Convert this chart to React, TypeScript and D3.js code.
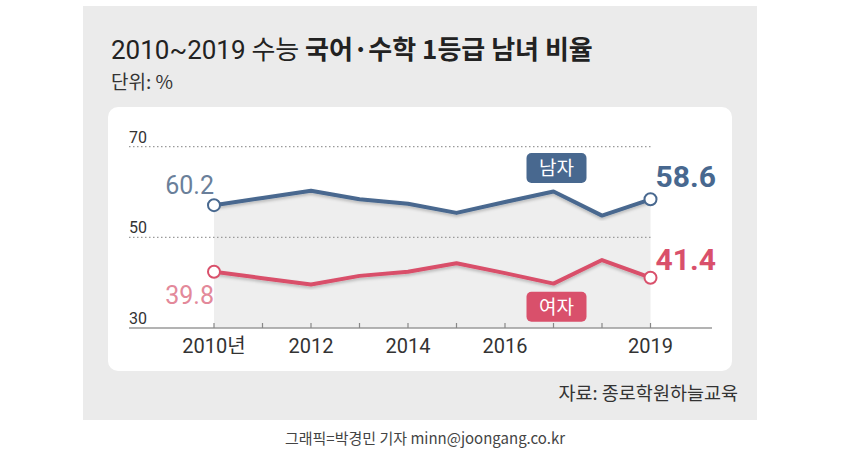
import React from "react";
import * as d3 from "d3";

const years = [2010, 2011, 2012, 2013, 2014, 2015, 2016, 2017, 2018, 2019];
const maleValues = [57.1, 58.7, 60.3, 58.4, 57.4, 55.4, 57.8, 60.1, 54.8, 58.4];
const femaleValues = [42.4, 41.0, 39.6, 41.5, 42.4, 44.3, 42.1, 39.8, 45.0, 41.1];
const maleEndLabels = ["60.2", "58.6"];
const femaleEndLabels = ["39.8", "41.4"];
const yTicks = [30, 50, 70];
const xTickYears = [2010, 2012, 2014, 2016, 2019];
const xTickLabels = ["2010년", "2012", "2014", "2016", "2019"];
const seriesNames = ["남자", "여자"];

const W = 850;
const H = 456;
const MALE = "#48688f";
const FEMALE = "#d9506b";
const FONT = "'Noto Sans CJK KR', sans-serif";
const NUMFONT = "Roboto, 'Noto Sans CJK KR', sans-serif";

export default function App() {
  const x = d3.scaleLinear().domain([2010, 2019]).range([214, 650.5]);
  const y = d3.scaleLinear().domain([30, 70]).range([328, 146.7]);

  const male = years.map((yr, i) => [yr, maleValues[i]] as [number, number]);
  const female = years.map((yr, i) => [yr, femaleValues[i]] as [number, number]);

  const line = d3
    .line<[number, number]>()
    .x((d) => x(d[0]))
    .y((d) => y(d[1]));
  const area = d3
    .area<[number, number]>()
    .x((d) => x(d[0]))
    .y0(y(30))
    .y1((d) => y(d[1]));

  const first = 0;
  const last = years.length - 1;

  return (
    <svg
      width={W}
      height={H}
      style={{ position: "absolute", left: 0, top: 0, background: "#fff" }}
      fontFamily={FONT}
    >
      <defs>
        <filter id="sh" x="-5%" y="-20%" width="110%" height="140%">
          <feDropShadow dx="0" dy="2" stdDeviation="1.5" floodColor="#000" floodOpacity="0.22" />
        </filter>
      </defs>
      {/* outer gray panel */}
      <rect x={83} y={6} width={674} height={414} fill="#ebebeb" />
      {/* title */}
      <text x={111} y={59} fontSize={26} fill="#222">
        <tspan fontFamily={NUMFONT}>2010~2019</tspan>
        <tspan> 수능 </tspan>
        <tspan fontWeight="bold">국어·수학 1등급 남녀 비율</tspan>
      </text>
      <text x={111} y={89} fontSize={19} fill="#333">
        단위: %
      </text>
      {/* inner white panel */}
      <rect x={108} y={107} width={624} height={264} rx={10} fill="#fff" />

      {/* shaded area under male line */}
      <path d={area(male) || ""} fill="#eeeeee" />

      {/* grid lines */}
      {yTicks
        .filter((t) => t !== 30)
        .map((t) => (
          <line
            key={t}
            x1={129}
            x2={x(2019)}
            y1={y(t)}
            y2={y(t)}
            stroke="#9a9a9a"
            strokeWidth={1.2}
            strokeDasharray="1.5,2.5"
          />
        ))}
      {yTicks.map((t) => (
        <text key={"yl" + t} x={129} y={y(t) - 4} fontSize={16} fill="#333" fontFamily={NUMFONT}>
          {t}
        </text>
      ))}
      {/* baseline */}
      <line x1={129} x2={712} y1={y(30)} y2={y(30)} stroke="#9a9a9a" strokeWidth={1.5} />
      {years.map((yr) => (
        <line key={"t" + yr} x1={x(yr)} x2={x(yr)} y1={y(30)} y2={y(30) - 5} stroke="#888" strokeWidth={1.2} />
      ))}
      {xTickYears.map((yr, i) => (
        <text
          key={"xl" + yr}
          x={x(yr)}
          y={353}
          fontSize={20}
          textAnchor="middle"
          fill="#333"
          fontFamily={NUMFONT}
        >
          {xTickLabels[i]}
        </text>
      ))}

      {/* lines */}
      <path d={line(male) || ""} fill="none" stroke={MALE} strokeWidth={4} strokeLinejoin="round" filter="url(#sh)" />
      <path d={line(female) || ""} fill="none" stroke={FEMALE} strokeWidth={4} strokeLinejoin="round" filter="url(#sh)" />
      {[first, last].map((i) => (
        <g key={"c" + i}>
          <circle cx={x(years[i])} cy={y(maleValues[i])} r={6} fill="#fff" stroke={MALE} strokeWidth={2} />
          <circle cx={x(years[i])} cy={y(femaleValues[i])} r={6} fill="#fff" stroke={FEMALE} strokeWidth={2} />
        </g>
      ))}

      {/* end labels */}
      <text x={x(2010)} y={y(maleValues[first]) - 11} fontSize={25} textAnchor="end" fill="#6a7f9a" fontFamily={NUMFONT}>
        {maleEndLabels[0]}
      </text>
      <text x={x(2010)} y={y(femaleValues[first]) + 32} fontSize={25} textAnchor="end" fill="#e3899a" fontFamily={NUMFONT}>
        {femaleEndLabels[0]}
      </text>
      <text x={x(2019) + 5} y={y(maleValues[last]) - 12} fontSize={30} fontWeight="bold" fill={MALE} fontFamily={NUMFONT}>
        {maleEndLabels[1]}
      </text>
      <text x={x(2019) + 5} y={y(femaleValues[last]) - 8} fontSize={30} fontWeight="bold" fill={FEMALE} fontFamily={NUMFONT}>
        {femaleEndLabels[1]}
      </text>

      {/* legend boxes */}
      <g transform={`translate(${x(2017) + 3},${y(65.3)})`}>
        <rect x={-30} y={-15} width={60} height={30} rx={5} fill={MALE} />
        <text y={7} fontSize={19} textAnchor="middle" fill="#fff">
          {seriesNames[0]}
        </text>
      </g>
      <g transform={`translate(${x(2017) + 3},${y(34.7)})`}>
        <rect x={-30} y={-15} width={60} height={30} rx={5} fill={FEMALE} />
        <text y={7} fontSize={19} textAnchor="middle" fill="#fff">
          {seriesNames[1]}
        </text>
      </g>

      {/* source */}
      <text x={738} y={400} fontSize={18.5} textAnchor="end" fill="#333">
        자료: 종로학원하늘교육
      </text>
      <text x={425} y={444} fontSize={15} textAnchor="middle" fill="#444">
        그래픽=박경민 기자 minn@joongang.co.kr
      </text>
    </svg>
  );
}
